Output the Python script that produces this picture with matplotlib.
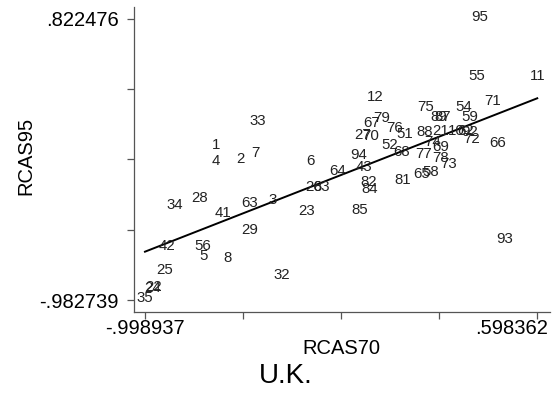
import numpy as np
import matplotlib
matplotlib.use("Agg")
import matplotlib.pyplot as plt
from matplotlib.transforms import ScaledTranslation

# industry codes with revealed comparative advantage in 1970 and 1995
codes = ["1", "2", "3", "4", "5", "6", "7", "8", "10", "11", "12", "21", "22",
         "24", "23", "25", "26", "83", "27", "70", "28", "29", "32", "33", "34",
         "35", "41", "42", "43", "51", "52", "54", "55", "56", "58", "59", "62",
         "92", "63", "64", "65", "66", "67", "68", "69", "71", "72", "73", "74",
         "75", "76", "77", "78", "79", "81", "82", "84", "85", "87", "88", "89",
         "93", "94", "95"]
rcas70 = [-0.70986, -0.61214, -0.47778, -0.70986, -0.75872, -0.32713, -0.55106,
          -0.66100, 0.26733, 0.598362, -0.06247, 0.20625, -0.96230, -0.96637,
          -0.33934, -0.91751, -0.31084, -0.27827, -0.11133, -0.07876, -0.77500,
          -0.57142, -0.44113, -0.53885, -0.87679, -0.998937, -0.68136, -0.90936,
          -0.10726, 0.05968, -0.00140, 0.29990, 0.35283, -0.76279, 0.16554,
          0.32433, 0.30804, 0.32433, -0.57142, -0.21312, 0.12889, 0.43833,
          -0.07469, 0.04746, 0.20625, 0.41798, 0.33247, 0.23883, 0.17368,
          0.14518, 0.01896, 0.13704, 0.20625, -0.03397, 0.05153, -0.08690,
          -0.08283, -0.12355, 0.21440, 0.14111, 0.19811, 0.46684, -0.12762,
          0.36505]
rcas95 = [0.00017, -0.08977, -0.35317, -0.10262, -0.71293, -0.10262, -0.05122,
          -0.72578, 0.09011, 0.44345, 0.30853, 0.09011, -0.91208, -0.91851,
          -0.42383, -0.80287, -0.26965, -0.26965, 0.06441, 0.05799, -0.34032,
          -0.54590, -0.83499, 0.15435, -0.38529, -0.982739, -0.43668, -0.64868,
          -0.14117, 0.07084, 0.00017, 0.24429, 0.44345, -0.64868, -0.17329,
          0.18005, 0.09011, 0.08369, -0.37244, -0.16686, -0.18614, 0.01302,
          0.14150, -0.04480, -0.01268, 0.28284, 0.03872, -0.12189, 0.01944,
          0.24429, 0.10938, -0.05765, -0.08335, 0.17363, -0.22468, -0.23753,
          -0.28250, -0.41741, 0.18005, 0.08369, 0.18005, -0.60371, -0.06407,
          0.822476]

# fitted values at the two ends of the RCAS70 range
fit_ends = [-0.67245, 0.31304]

x = np.array(rcas70)
y = np.array(rcas95)


def stata_fmt(v):
    s = f"{v:.6f}"
    return s.replace("0.", ".", 1)


plt.rcParams["font.family"] = ["Liberation Sans", "DejaVu Sans"]

fig = plt.figure(figsize=(5.58, 3.94), dpi=100)
ax = fig.add_axes([0.2401, 0.2089, 0.7455, 0.7734])

for c, xi, yi in zip(codes, x, y):
    ax.annotate(c, (xi, yi), xytext=(0, 1.1), textcoords="offset points",
                ha="center", va="center", fontsize=10.8, color="#222222")

ax.plot([x.min(), x.max()], fit_ends, color="black", lw=1.4)

xr = x.max() - x.min()
yr = y.max() - y.min()
ax.set_xlim(x.min() - 0.028 * xr, x.max() + 0.0324 * xr)
ax.set_ylim(y.min() - 0.0416 * yr, y.max() + 0.0427 * yr)

xt = np.linspace(x.min(), x.max(), 5)
yt = np.linspace(y.min(), y.max(), 5)
ax.set_xticks(xt)
ax.set_yticks(yt)
ax.set_xticklabels([stata_fmt(xt[0]), "", "", "", stata_fmt(xt[-1])])
ax.set_yticklabels([stata_fmt(yt[0]), "", "", "", stata_fmt(yt[-1])])

for side in ["top", "right"]:
    ax.spines[side].set_visible(False)
for side in ["left", "bottom"]:
    ax.spines[side].set_color("#555555")
    ax.spines[side].set_linewidth(0.9)
ax.tick_params(axis="both", direction="out", length=4.7, width=0.9,
               color="#555555", labelsize=14.5, labelcolor="black")
ax.tick_params(axis="x", pad=0.5)
ax.tick_params(axis="y", pad=6.3)

# keep the last x label inside the figure
last = ax.get_xticklabels()[-1]
last.set_transform(last.get_transform()
                   + ScaledTranslation(-0.26, 0, fig.dpi_scale_trans))

ax.set_xlabel("RCAS70", fontsize=14.5)
ax.set_ylabel("RCAS95", fontsize=14.5)
ax.xaxis.set_label_coords(0.4993, -0.0896)
ax.yaxis.set_label_coords(-0.237, 0.512)

fig.text(0.5122, 0.0272, "U.K.", ha="center", va="baseline", fontsize=20)

fig.savefig("out.png", dpi=100)
